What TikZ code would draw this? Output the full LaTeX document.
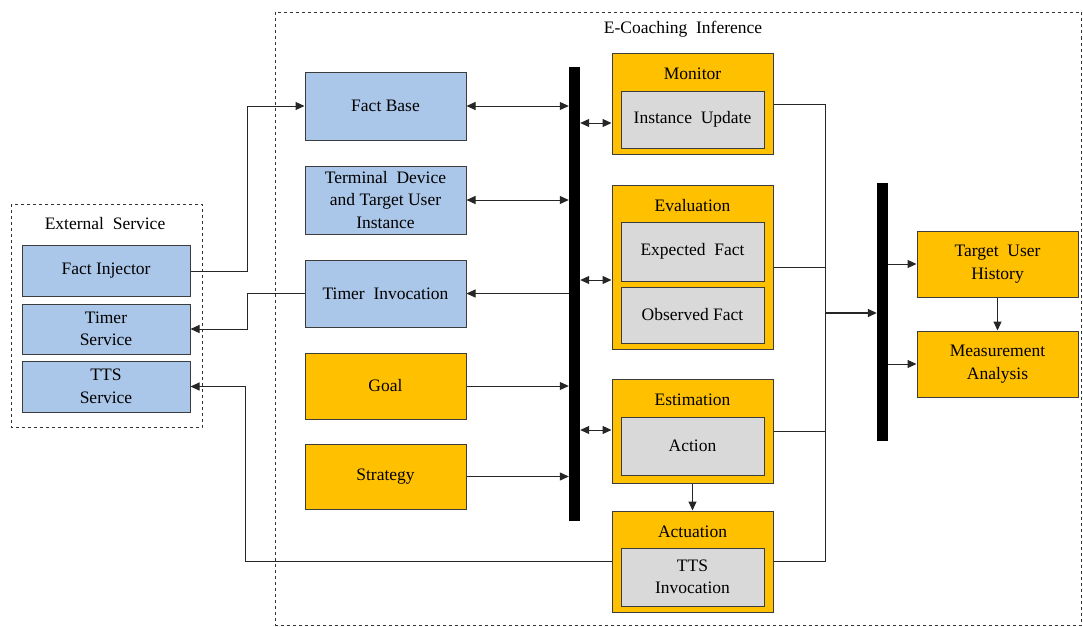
\documentclass[tikz,border=0pt]{standalone}
\usepackage{fontspec}
\setmainfont{Liberation Serif}
\usetikzlibrary{arrows.meta,calc}
\definecolor{boxblue}{RGB}{170,198,232}
\definecolor{boxorange}{RGB}{255,192,0}
\definecolor{boxgray}{RGB}{217,217,217}
\definecolor{edge}{RGB}{60,60,60}
\tikzset{
  base/.style={draw=edge, line width=1pt, inner sep=2pt, align=center,
    font=\fontsize{17.5}{22.5}\selectfont},
  bluebox/.style={base, fill=boxblue, minimum width=#1},
  bluebox/.default=168pt,
  orangebox/.style={base, fill=boxorange, minimum width=161pt},
  graybox/.style={base, fill=boxgray, minimum width=143pt},
  busbar/.style={fill=black, draw=none, minimum width=11pt, inner sep=0pt},
  frame/.style={draw=black!80, dashed, line width=0.8pt},
  label/.style={font=\fontsize{17.5}{22.5}\selectfont, inner sep=0pt},
  link/.style={draw=black!85, line width=1pt},
  tip/.style={-{Triangle[length=9pt,width=8pt]}},
  bitip/.style={{Triangle[length=9pt,width=8pt]}-{Triangle[length=9pt,width=8pt]}},
}
\begin{document}
\begin{tikzpicture}[x=1pt,y=-1pt]
\useasboundingbox (0,0) rectangle (1083,626);

% dashed frames
\draw[frame] (11.5,204) rectangle (202,427.5);
\node[label] (exttitle) at (105,224) {External\ \ Service};
\draw[frame] (275.5,12) rectangle (1081,625);
\node[label] (ecotitle) at (683,29) {E-Coaching\ \ Inference};

% external services
\node[bluebox, minimum height=51pt] (inj) at (106,271) {Fact Injector};
\node[bluebox, minimum height=50pt] (tsrv) at (106,329) {Timer\\Service};
\node[bluebox, minimum height=51pt] (ttssrv) at (106,386.5) {TTS\\Service};

% left column
\node[bluebox=161pt, minimum height=68pt] (fb) at (385.5,106) {Fact Base};
\node[bluebox=161pt, minimum height=68pt] (term) at (385.5,200) {Terminal\ \ Device\\and Target User\\Instance};
\node[bluebox=161pt, minimum height=67pt] (tinv) at (385.5,293.5) {Timer\ \ Invocation};
\node[orangebox, minimum height=66pt] (goal) at (385.5,386) {Goal};
\node[orangebox, minimum height=65pt] (strat) at (385.5,476.5) {Strategy};

% buses
\node[busbar, minimum height=454pt] (bus1) at (574.5,294) {};
\node[busbar, minimum height=258pt] (bus2) at (882.5,312) {};

% inference modules
\node[orangebox, minimum height=100pt] (mon) at (692.5,104) {};
\node[label] (montitle) at (692.5,74) {Monitor};
\node[graybox, minimum height=57pt] (iupd) at (692.5,119.5) {Instance\ \ Update};

\node[orangebox, minimum height=164pt] (eval) at (692.5,267) {};
\node[label] (evaltitle) at (692.5,206) {Evaluation};
\node[graybox, minimum height=59pt] (exp) at (692.5,251.5) {Expected\ \ Fact};
\node[graybox, minimum height=56pt] (obs) at (692.5,315) {Observed Fact};

\node[orangebox, minimum height=104pt] (est) at (692.5,431) {};
\node[label] (esttitle) at (692.5,400) {Estimation};
\node[graybox, minimum height=58pt] (act) at (692.5,446) {Action};

\node[orangebox, minimum height=101pt] (actu) at (692.5,561.5) {};
\node[label] (actutitle) at (692.5,532) {Actuation};
\node[graybox, minimum height=58pt] (ttsinv) at (692.5,577) {TTS\\Invocation};

% result modules
\node[orangebox, minimum height=66pt] (hist) at (997.5,264) {Target\ \ User\\History};
\node[orangebox, minimum height=66pt] (meas) at (997.5,364) {Measurement\\Analysis};

% left column to first bus
\draw[link,bitip] (fb.east) -- (fb.east -| bus1.west);
\draw[link,bitip] (term.east) -- (term.east -| bus1.west);
\draw[link,tip] (tinv.east -| bus1.west) -- (tinv.east);
\draw[link,tip] (goal.east) -- (goal.east -| bus1.west);
\draw[link,tip] (strat.east) -- (strat.east -| bus1.west);

% first bus to modules
\coordinate (mrow) at (0,123);
\coordinate (erow) at (0,280);
\coordinate (srow) at (0,430);
\draw[link,bitip] (bus1.east |- mrow) -- (mon.west |- mrow);
\draw[link,bitip] (bus1.east |- erow) -- (eval.west |- erow);
\draw[link,bitip] (bus1.east |- srow) -- (est.west |- srow);
\draw[link,tip] (est.south) -- (actu.north);

% external links
\coordinate (jl) at (247,0);
\draw[link,tip] (inj.east) -- (inj.east -| jl) |- (fb.west);
\draw[link,tip] (tinv.west) -- (tinv.west -| jl) |- (tsrv.east);
\coordinate (jt) at (245.5,0);
\draw[link,tip] (actu.west) -- (actu.west -| jt) |- (ttssrv.east);

% modules to second bus
\coordinate (jr) at (825,0);
\draw[link] (mon.east) -- (mon.east -| jr) -- (actu.east -| jr) -- (actu.east);
\draw[link] (eval.east) -- (eval.east -| jr);
\draw[link] (est.east) -- (est.east -| jr);
\coordinate (brow) at (0,313);
\draw[link,tip,line width=1.6pt] (jr |- brow) -- (bus2.west |- brow);

% second bus to results
\draw[link,tip] (bus2.east |- hist.west) -- (hist.west);
\draw[link,tip] (bus2.east |- meas.west) -- (meas.west);
\draw[link,tip] (hist.south) -- (meas.north);
\end{tikzpicture}
\end{document}
